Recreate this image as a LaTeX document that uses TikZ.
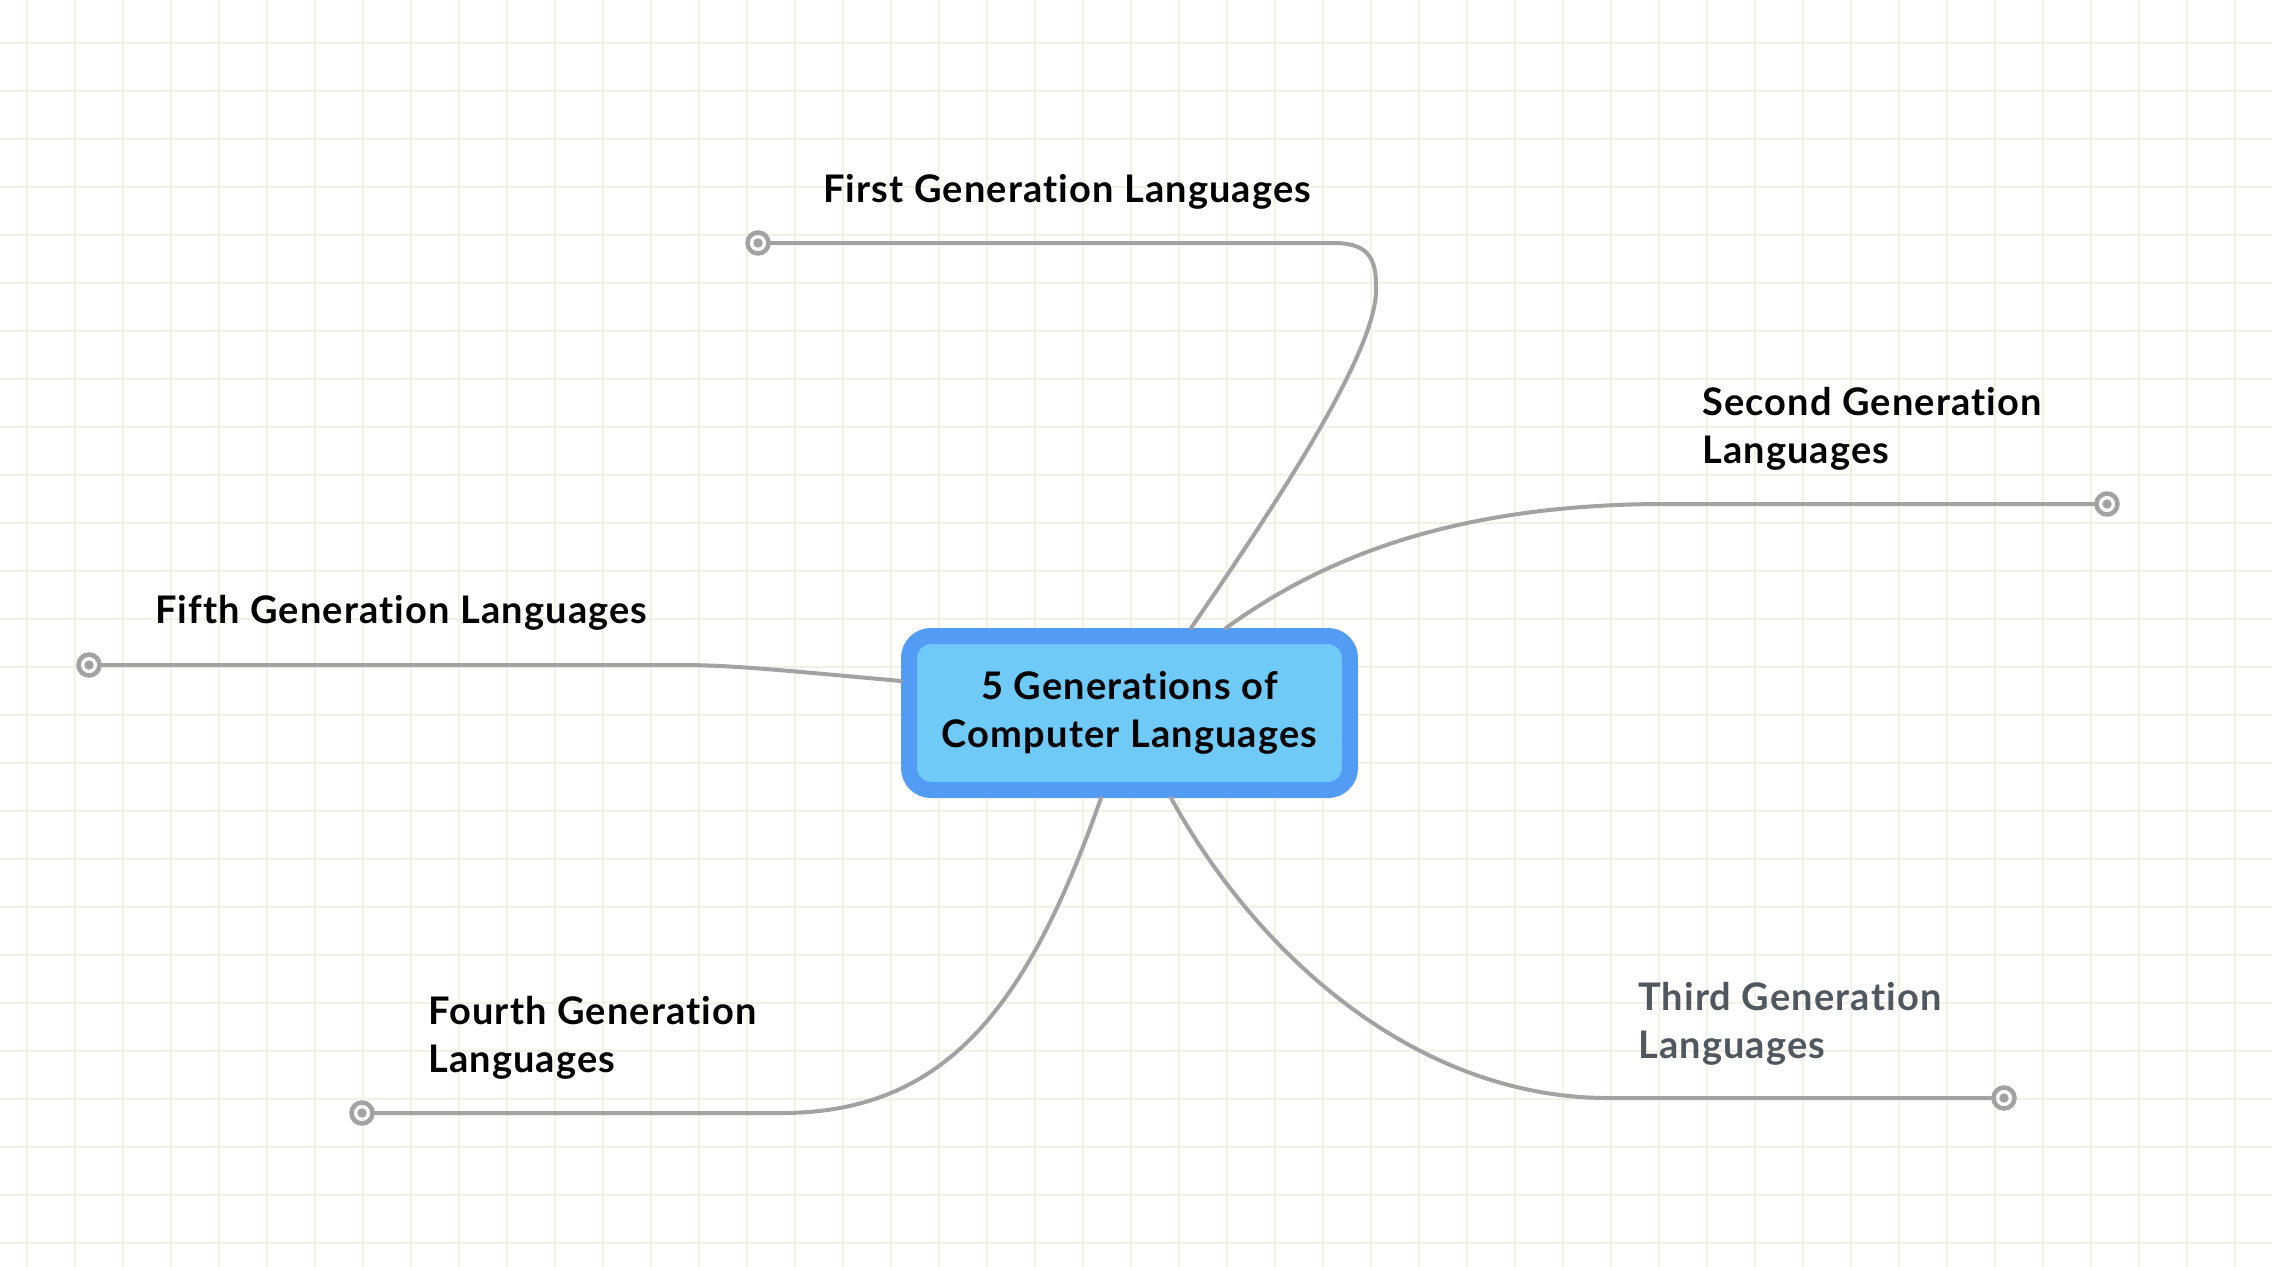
\documentclass[tikz,border=0pt]{standalone}
\usepackage{fontspec}
\setmainfont{Lato}[Ligatures=NoCommon, LetterSpace=3]
\usetikzlibrary{positioning}

\definecolor{gridgreen}{RGB}{239,243,230}
\definecolor{linegray}{RGB}{162,162,162}
\definecolor{blueedge}{RGB}{82,156,246}
\definecolor{bluefill}{RGB}{111,202,248}
\definecolor{thirdgray}{RGB}{80,87,94}

\begin{document}
\begin{tikzpicture}[x=1pt, y=-1pt, line cap=round,
  gridline/.style={draw=gridgreen, line width=2pt},
  branch/.style={draw=linegray, line width=4pt},
  enddot/.style={circle, draw=linegray, line width=4.5pt, minimum size=21pt, inner sep=0pt},
  rootbox/.style={rectangle, rounded corners=22pt, draw=blueedge, fill=bluefill,
    line width=16pt, minimum width=441pt, minimum height=154pt, outer sep=8pt,
    align=center, font=\fontsize{38}{48}\selectfont\bfseries},
  topic/.style={anchor=base west, align=left, inner sep=0pt,
    font=\fontsize{38}{48}\selectfont\bfseries}]

\fill[white] (0,0) rectangle (2272,1266);
\useasboundingbox (0,0) rectangle (2272,1266);

% --- background grid ---
\foreach \i in {0,...,46}
  \draw[gridline] (27.3+48*\i,0) -- (27.3+48*\i,1266);
\foreach \j in {0,...,25}
  \draw[gridline] (0,42.7+48*\j) -- (2272,42.7+48*\j);

% --- central topic ---
\node[rootbox] (root) at (1129.5,713) {5 Generations of\\Computer Languages};

% --- end circles of the branches ---
\node[enddot] (c1) at (758,243) {};
\node[enddot] (c2) at (2107,504) {};
\node[enddot] (c3) at (2004,1098) {};
\node[enddot] (c4) at (362,1113) {};
\node[enddot] (c5) at (89,665) {};
\foreach \c in {c1,c2,c3,c4,c5}
  \fill[linegray] (\c) circle (4.7pt);

% --- branches ---
\draw[branch] ([xshift=61.5pt]root.north) .. controls (1300,470) and (1380,340) .. (1376,285)
  .. controls (1376,255) and (1365,243) .. (1333,243) -- (c1);
\draw[branch] ([xshift=96.5pt]root.north) .. controls (1320,560) and (1450,504) .. (1666,504) -- (c2);
\draw[branch] ([xshift=41.5pt]root.south) .. controls (1260,960) and (1420,1098) .. (1608,1098) -- (c3);
\draw[branch] ([xshift=-28.5pt]root.south) .. controls (1030,1000) and (950,1113) .. (782,1113) -- (c4);
\draw[branch] ([yshift=32pt]root.west) .. controls (780,670) and (730,665) .. (681,665) -- (c5);

% --- branch labels (base = last line) ---
\node[topic] (t1) at (823,202) {First Generation Languages};
\node[topic] (t2) at (1702,463) {Second Generation\\Languages};
\node[topic, text=thirdgray] (t3) at (1638,1058) {Third Generation\\Languages};
\node[topic] (t4) at (428,1072) {Fourth Generation\\Languages};
\node[topic] (t5) at (155,623) {Fifth Generation Languages};

\end{tikzpicture}
\end{document}
